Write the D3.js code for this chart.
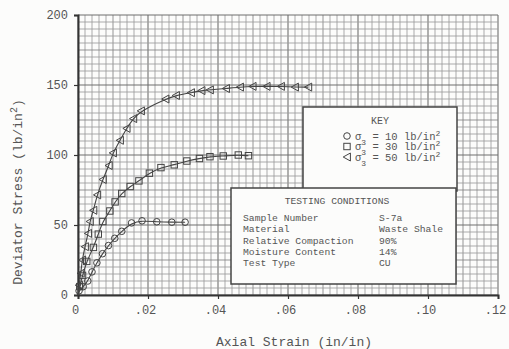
<!DOCTYPE html>
<html><head><meta charset="utf-8">
<script src="https://cdn.jsdelivr.net/npm/d3@7"></script>
<style>body{margin:0;background:#fcfcfb;}svg{display:block;}</style>
</head><body>
<script>
// ---- data ----
const circleStrain = [0.0003,0.0015,0.0028,0.0040,0.0054,0.0070,0.0087,0.0105,0.0125,0.0153,0.0183,0.0225,0.0268,0.0306];
const circleStress = [3,6,10,16.5,23,29.5,35.3,40.5,45.5,51.5,53,52.3,52,52];
const squareStrain = [0.0005,0.0013,0.0025,0.0044,0.0058,0.0071,0.0091,0.0106,0.0125,0.0149,0.0174,0.0204,0.0237,0.0275,0.0311,0.0347,0.0377,0.0415,0.0458,0.0487];
const squareStress = [6,14,24,34,43.5,52.5,60,66.5,72.5,77.5,81.5,87,91,93,95.7,97.5,98.8,99.3,100,99.5];
const triStrain = [0.0003,0.0008,0.0012,0.0020,0.0029,0.0034,0.0044,0.0055,0.0071,0.0088,0.0100,0.0120,0.0139,0.0158,0.0180,0.0250,0.0280,0.0323,0.0353,0.0377,0.0423,0.0463,0.0499,0.0539,0.0580,0.0620,0.0658];
const triStress = [7,15.5,25,34.5,44,52.5,60.5,71.5,82.5,92.5,101.5,110.5,119,126,131.5,140,142.5,144.5,146,146.5,147.5,148.5,149,149,149,148.5,148.5];
const xTicks = [0,0.02,0.04,0.06,0.08,0.10,0.12];
const xTickLabels = ["0",".02",".04",".06",".08",".10",".12"];
const yTicks = [0,50,100,150,200];
const keyLabels = ["10","30","50"];
const condNames = ["Sample Number","Material","Relative Compaction","Moisture Content","Test Type"];
const condValues = ["S-7a","Waste Shale","90%","14%","CU"];

const W=509,H=349;
const svg=d3.select("body").append("svg").attr("width",W).attr("height",H);
const x=d3.scaleLinear([0,0.12],[78,498]);
const y=d3.scaleLinear([0,200],[295,15]);
const ink="#444", txt="#555";
const font="'Liberation Mono', 'DejaVu Sans Mono', monospace";

// graph paper grid
const g=svg.append("g");
d3.range(0,61).forEach(i=>{
  const v=i*0.002;
  g.append("line").attr("x1",x(v)).attr("x2",x(v)).attr("y1",y(0)).attr("y2",y(200))
   .attr("stroke", i%10===0?"#6f6f6f":(i%5===0?"#828282":"#9c9c9c")).attr("stroke-width", i%10===0?1.1:0.85);
});
d3.range(0,41).forEach(i=>{
  const v=i*5;
  g.append("line").attr("x1",x(0)).attr("x2",x(0.12)).attr("y1",y(v)).attr("y2",y(v))
   .attr("stroke", i%10===0?"#6f6f6f":(i%5===0?"#828282":"#9c9c9c")).attr("stroke-width", i%10===0?1.1:0.85);
});

// axes
const xAxis=d3.axisBottom(x).tickValues(xTicks).tickFormat((d,i)=>xTickLabels[i]).tickSize(4).tickPadding(6);
const yAxis=d3.axisLeft(y).tickValues(yTicks).tickFormat(d3.format("d")).tickSize(4).tickPadding(6);
const gx=svg.append("g").attr("transform",`translate(0,${y(0)})`).call(xAxis);
const gy=svg.append("g").attr("transform",`translate(${x(0)},0)`).call(yAxis);
[gx,gy].forEach(a=>{
  a.select(".domain").attr("stroke","#333").attr("stroke-width",2);
  a.selectAll(".tick line").attr("stroke","#333").attr("stroke-width",1.2);
  a.selectAll(".tick text").attr("font-family",font).attr("font-size",12).attr("fill",txt);
});
gx.selectAll(".tick text").attr("dx",-3);

// axis titles
svg.append("text").attr("x",294).attr("y",346).attr("text-anchor","middle")
  .attr("font-family",font).attr("font-size",13).attr("fill",txt).text("Axial Strain (in/in)");
const yt=svg.append("text").attr("transform","translate(22,192) rotate(-90)").attr("text-anchor","middle")
  .attr("font-family",font).attr("font-size",13).attr("fill",txt);
yt.append("tspan").text("Deviator Stress (lb/in");
yt.append("tspan").attr("baseline-shift","super").attr("font-size",10).text("2");
yt.append("tspan").text(")");

// curves
const line=d3.line().x(d=>x(d[0])).y(d=>y(d[1])).curve(d3.curveBasis);
const series=[
  {sx:circleStrain, sy:circleStress, shape:"circle"},
  {sx:squareStrain, sy:squareStress, shape:"square"},
  {sx:triStrain, sy:triStress, shape:"tri"}
];
function marker(sel,shape,cx,cy){
  if(shape==="circle") sel.append("circle").attr("cx",cx).attr("cy",cy).attr("r",3.3);
  else if(shape==="square") sel.append("rect").attr("x",cx-3.2).attr("y",cy-3.2).attr("width",6.4).attr("height",6.4);
  else sel.append("path").attr("d",`M${cx-3.8},${cy}L${cx+3.4},${cy-4}L${cx+3.4},${cy+4}Z`);
}
series.forEach(s=>{
  const pts=[[0,0]].concat(s.sx.map((v,i)=>[v,s.sy[i]]));
  svg.append("path").attr("d",line(pts)).attr("fill","none").attr("stroke",ink).attr("stroke-width",1.1);
  const mg=svg.append("g").attr("fill","none").attr("stroke",ink).attr("stroke-width",1);
  s.sx.forEach((v,i)=>marker(mg,s.shape,x(v),y(s.sy[i])));
});

// KEY box
svg.append("rect").attr("x",303).attr("y",107).attr("width",154).attr("height",84)
  .attr("fill","#fcfcfb").attr("stroke","#444").attr("stroke-width",1.5);
svg.append("text").attr("x",380).attr("y",124).attr("text-anchor","middle")
  .attr("font-family",font).attr("font-size",10).attr("fill",txt).text("KEY");
["circle","square","tri"].forEach((sh,i)=>{
  const cy=136+i*10.5;
  const mg=svg.append("g").attr("fill","none").attr("stroke",ink).attr("stroke-width",1);
  marker(mg,sh,347,cy);
  const t=svg.append("text").attr("x",355).attr("y",cy+3.5).attr("font-family",font).attr("font-size",10.5).attr("fill",txt);
  t.append("tspan").text("σ");
  t.append("tspan").attr("baseline-shift","sub").attr("font-size",8).text("3");
  t.append("tspan").text(" = "+keyLabels[i]+" lb/in");
  t.append("tspan").attr("baseline-shift","super").attr("font-size",8).text("2");
});

// TESTING CONDITIONS box
svg.append("rect").attr("x",231).attr("y",188).attr("width",225).attr("height",96)
  .attr("fill","#fcfcfb").attr("stroke","#444").attr("stroke-width",1.5);
svg.append("text").attr("x",337).attr("y",204).attr("text-anchor","middle")
  .attr("font-family",font).attr("font-size",9.7).attr("fill",txt).text("TESTING CONDITIONS");
condNames.forEach((n,i)=>{
  const yy=221+i*11.3;
  svg.append("text").attr("x",243).attr("y",yy).attr("font-family",font).attr("font-size",9.7).attr("fill",txt).text(n);
  svg.append("text").attr("x",379).attr("y",yy).attr("font-family",font).attr("font-size",9.7).attr("fill",txt).text(condValues[i]);
});
</script>
</body></html>
